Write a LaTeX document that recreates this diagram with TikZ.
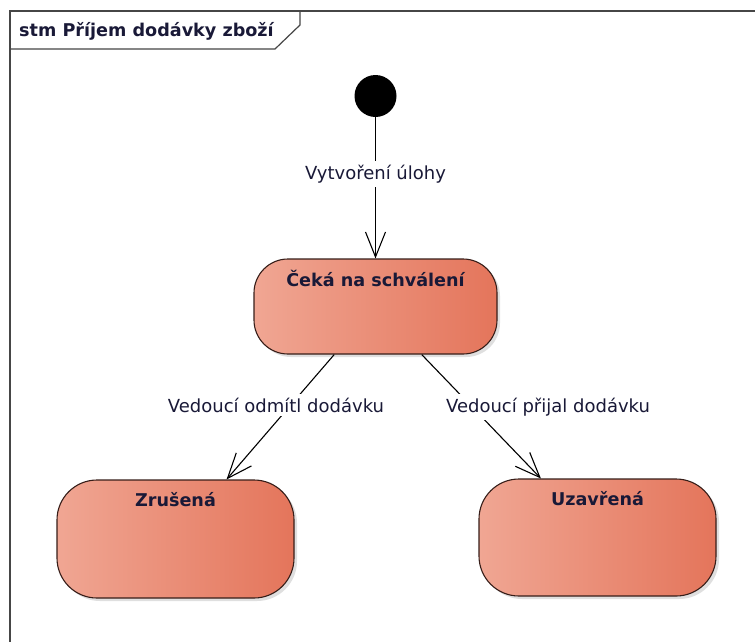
\documentclass[tikz,border=0pt]{standalone}
\usepackage{fontspec}
\setmainfont{DejaVu Sans}
\usetikzlibrary{arrows.meta,shadows,calc}
\definecolor{nodeL}{RGB}{240,166,147}
\definecolor{nodeR}{RGB}{228,117,91}
\definecolor{edgeC}{RGB}{55,30,25}
\definecolor{txtC}{RGB}{25,25,55}
\definecolor{frameC}{RGB}{70,70,70}
\begin{document}
\begin{tikzpicture}[x=1pt,y=-1pt,
  statebox/.style={draw=edgeC, line width=1.1pt, rounded corners=34pt,
    left color=nodeL, right color=nodeR, inner sep=0pt,
    drop shadow={shadow xshift=3pt, shadow yshift=-3pt, fill=black!35, opacity=0.35}},
  sttitle/.style={font=\bfseries\fontsize{17.6}{20}\selectfont, text=txtC, inner sep=0pt},
  trlabel/.style={font=\fontsize{18}{21}\selectfont, text=txtC, fill=white, inner xsep=2pt, inner ysep=4pt},
  trans/.style={draw=black, line width=1.1pt, -{Straight Barb[length=25pt,width=20pt]}}]
\useasboundingbox (0,0) rectangle (755,641);
\fill[white] (0,0) rectangle (755,641);
% frame
\draw[frameC, line width=2pt] (10,660) -- (10,11) -- (770,11);
\draw[frameC, line width=1.2pt] (10,49) -- (275,49) -- (300,25) -- (300,11);
\node[sttitle, anchor=west] (frameT) at (19,31) {stm Příjem dodávky zboží};
% nodes
\node[circle, fill=black, minimum size=42pt, inner sep=0pt] (init) at (375.5,96) {};
\node[statebox, minimum width=243pt, minimum height=95pt] (ceka) at (375.5,306.5) {};
\node[statebox, rounded corners=40pt, minimum width=237pt, minimum height=118pt] (zrus) at (175.5,539) {};
\node[statebox, rounded corners=40pt, minimum width=237pt, minimum height=117pt] (uzav) at (597.5,537.5) {};
\node[sttitle] (cekaT) at ([yshift=-20pt]ceka.north) {Čeká na schválení};
\node[sttitle] (zrusT) at ([yshift=-20pt]zrus.north) {Zrušená};
\node[sttitle] (uzavT) at ([yshift=-20pt]uzav.north) {Uzavřená};
% transitions
\draw[trans] (init) -- (ceka);
\draw[trans] (ceka) -- (zrus);
\draw[trans] (ceka) -- (uzav);
\node[trlabel] (l1) at (375.5,174) {Vytvoření úlohy};
\node[trlabel] (l2) at (276,405) {Vedoucí odmítl dodávku};
\node[trlabel] (l3) at (548,407) {Vedoucí přijal dodávku};
\end{tikzpicture}
\end{document}
